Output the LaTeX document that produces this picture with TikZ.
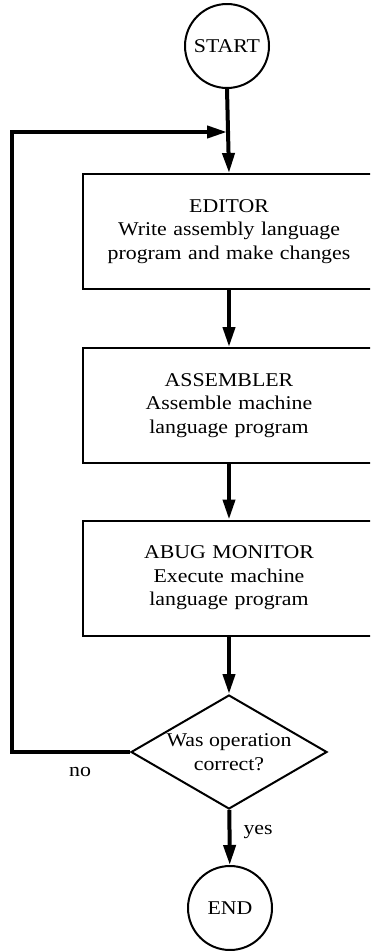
\documentclass[tikz,border=0pt]{standalone}
\usepackage{fontspec}
\setmainfont{Liberation Serif}[FakeStretch=1.12]
\usetikzlibrary{shapes.geometric,arrows.meta}

\begin{document}
\begin{tikzpicture}[x=1pt, y=-1pt, every node/.style={font=\fontsize{19.5}{23.5}\selectfont, align=center}, term/.style={draw, circle, line width=2pt, minimum size=84pt, inner sep=0pt}, blk/.style={draw, line width=2pt, minimum width=306pt, minimum height=115pt, inner sep=0pt, text width=290pt}, test/.style={draw, diamond, aspect=1.7, line width=2pt, minimum width=196pt, minimum height=114pt, inner sep=0pt}, flow/.style={line width=4pt, -{Triangle[length=20pt, width=12pt]}}, link/.style={line width=4pt}]
	\useasboundingbox (0,0) rectangle (370,951);
	\clip (0,0) rectangle (370,951);
	\node[term] (start) at (227,46) {START};
	\node[blk] (editor) at (236,231.5) {\hspace*{-14pt}EDITOR\\\hspace*{-14pt}Write assembly language\\\hspace*{-14pt}program and make changes};
	\node[blk] (asm) at (236,405.5) {\hspace*{-14pt}ASSEMBLER\\\hspace*{-14pt}Assemble machine\\\hspace*{-14pt}language program};
	\node[blk] (abug) at (236,578) {\hspace*{-14pt}ABUG MONITOR\\\hspace*{-14pt}Execute machine\\\hspace*{-14pt}language program};
	\node[test] (check) at (229,752) {Was operation\\correct?};
	\node[term] (end) at (230,908) {END};
	\node (no) at (80,772) {no};
	\node[anchor=west] (yes) at (240,832) {yes};
	\coordinate (join) at (229,132);
	\coordinate (back) at (12,132);
	\draw[flow] (start.south) -- (editor.north -| check);
	\draw[flow] (editor.south -| check) -- (asm.north -| check);
	\draw[flow] (asm.south -| check) -- (abug.north -| check);
	\draw[flow] (abug.south -| check) -- (check);
	\draw[flow] (check) -- (end);
	\draw[link, line join=miter] (check.west) -| (back) -- ([xshift=-8pt]join);
	\draw[flow, shorten >=2pt] (back) -- (join);
\end{tikzpicture}
\end{document}
